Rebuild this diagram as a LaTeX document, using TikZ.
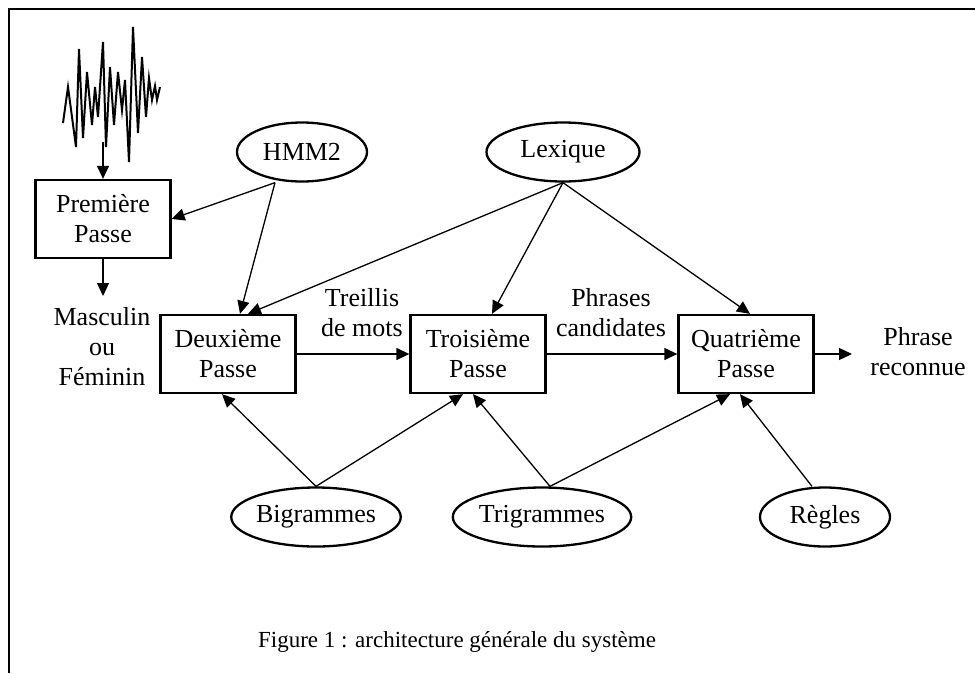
\documentclass[tikz,border=0pt]{standalone}
\usepackage{fontspec}
\setmainfont{Liberation Serif}
\usetikzlibrary{shapes.geometric, arrows.meta}

\begin{document}
\begin{tikzpicture}[x=1pt, y=-1pt, -{Triangle[length=13pt, width=12pt]}, line width=1.3pt,
  font=\fontsize{26}{30}\selectfont]
\tikzstyle{passe}=[draw, rectangle, line width=2.3pt, minimum width=135pt, minimum height=78pt, align=center, inner sep=0pt]
\tikzstyle{source}=[draw, ellipse, line width=2.3pt, minimum height=59pt, inner sep=0pt]
\tikzstyle{etiquette}=[align=center, inner sep=0pt]
\useasboundingbox (0,0) rectangle (975,673);
% cadre
\draw[-, line width=1.5pt] (9,673) -- (9,9) -- (975,9);
% signal
\draw[-, line width=2pt, line join=miter]
  (63,123) -- (68,87) -- (76,147) -- (79,49) -- (83,138) -- (87,72) -- (92,125)
  -- (95,87) -- (98,117) -- (103,42) -- (106,147) -- (110,67) -- (114,125)
  -- (118,72) -- (122,110) -- (125,80) -- (129,162) -- (133,27) -- (138,133)
  -- (142,57) -- (146,117) -- (149,78) -- (152,100) -- (155,86) -- (157,100) -- (160,87);
\coordinate (signal) at (103,142);
% noeuds
\node[passe]  (P1) at (103,219) {Première\\Passe};
\node[passe]  (P2) at (228,354) {Deuxième\\Passe};
\node[passe]  (P3) at (478,354) {Troisième\\Passe};
\node[passe]  (P4) at (746,354) {Quatrième\\Passe};
\node[source, minimum width=130pt] (hmm) at (302,152) {HMM2};
\node[source, minimum width=153pt] (lex) at (563,152) {Lexique};
\node[source, minimum width=168pt] (bi)  at (316,517) {Bigrammes};
\node[source, minimum width=150pt] (tri) at (542,517) {Trigrammes};
\node[source, minimum width=130pt] (reg) at (825,517) {Règles};
\node[etiquette] (genre)  at (102,347) {Masculin\\ou\\Féminin};
\node[etiquette] (treil)  at (362,313) {Treillis\\de mots};
\node[etiquette] (cand)   at (611,313) {Phrases\\candidates};
\node[etiquette] (recon)  at (918,352) {Phrase\\reconnue};
\node[etiquette, font=\fontsize{23}{27}\selectfont] (titre) at (457,642) {Figure 1 : architecture générale du système};
\coordinate (sexe) at (103,296);
\coordinate (sortie) at (852,354);
% connexions
\draw (signal) -- (P1.north);
\draw (P1.south) -- (sexe);
\draw ([xshift=-27pt]hmm.south) -- (P1.east);
\draw ([xshift=-27pt]hmm.south) -- ([xshift=12pt]P2.north);
\draw (lex.south) -- ([xshift=20pt]P2.north);
\draw (lex.south) -- ([xshift=14pt]P3.north);
\draw (lex.south) -- ([xshift=4pt]P4.north);
\draw (P2.east) -- (P3.west);
\draw (P3.east) -- (P4.west);
\draw (P4.east) -- (sortie);
\draw (bi.north) -- ([xshift=-6pt]P2.south);
\draw (bi.north) -- ([xshift=-15pt]P3.south);
\draw ([xshift=8pt]tri.north) -- ([xshift=-5pt]P3.south);
\draw ([xshift=8pt]tri.north) -- ([xshift=-16pt]P4.south);
\draw ([xshift=-13pt]reg.north) -- ([xshift=-6pt]P4.south);
\end{tikzpicture}
\end{document}
